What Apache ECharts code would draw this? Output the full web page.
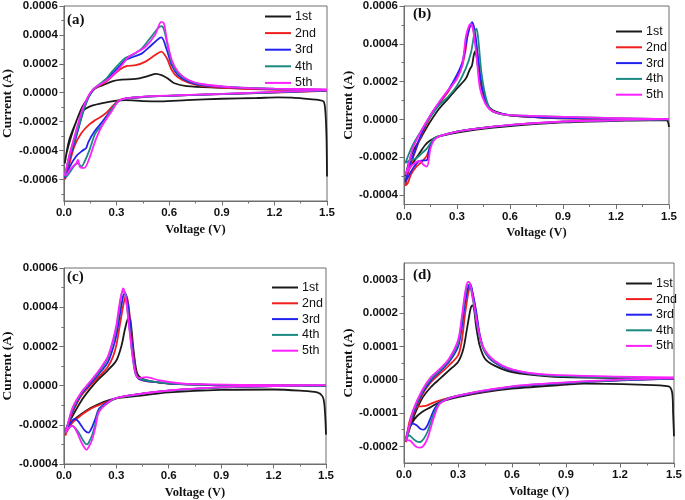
<!DOCTYPE html>
<html><head><meta charset="utf-8">
<script src="https://cdn.jsdelivr.net/npm/echarts@6/dist/echarts.min.js"></script>
<style>html,body{margin:0;padding:0;background:#fff}#c{width:685px;height:500px}</style>
</head><body><div id="c"></div>
<script>
const cycleNames = ['1st', '2nd', '3rd', '4th', '5th'];
const cycleColors = ['#1a1a1a', '#f01e1e', '#2222f0', '#1a8a80', '#ff20ff'];

// ---- Panel (a): [Voltage (V), Current (A)] ----
const a1 = [[1.5,-5.8e-4],[1.497,-3.0e-4],[1.49,-1.2e-4],[1.48,-0.6e-4],[1.45,-0.5e-4],[1.4,-0.45e-4],[1.3,-0.35e-4],[1.22,-0.33e-4],[1.1,-0.37e-4],[0.9,-0.42e-4],[0.7,-0.52e-4],[0.55,-0.6e-4],[0.45,-0.58e-4],[0.35,-0.52e-4],[0.3,-0.55e-4],[0.22,-0.72e-4],[0.16,-0.9e-4],[0.126,-1.1e-4],[0.09,-1.45e-4],[0.07,-2.0e-4],[0.05,-2.7e-4],[0.03,-3.5e-4],[0.015,-4.2e-4],[0.005,-4.9e-4],[0.03,-3.3e-4],[0.07,-2.0e-4],[0.1,-1.1e-4],[0.13,-0.5e-4],[0.15,-0.1e-4],[0.18,0.3e-4],[0.22,0.5e-4],[0.28,0.8e-4],[0.33,0.9e-4],[0.41,0.95e-4],[0.48,1.15e-4],[0.525,1.3e-4],[0.56,1.2e-4],[0.59,1.0e-4],[0.63,0.65e-4],[0.7,0.45e-4],[0.86,0.35e-4],[1.1,0.28e-4],[1.5,0.2e-4]];
const a2 = [[1.5,0.12e-4],[1.2,0.0],[0.9,-0.1e-4],[0.6,-0.22e-4],[0.45,-0.3e-4],[0.35,-0.42e-4],[0.31,-0.55e-4],[0.28,-0.9e-4],[0.25,-1.3e-4],[0.22,-1.6e-4],[0.18,-1.9e-4],[0.145,-2.2e-4],[0.1,-2.8e-4],[0.06,-3.7e-4],[0.03,-5.0e-4],[0.012,-5.8e-4],[0.005,-6.0e-4],[0.03,-4.4e-4],[0.07,-2.8e-4],[0.107,-1.3e-4],[0.135,-0.4e-4],[0.165,0.2e-4],[0.2,0.46e-4],[0.24,0.76e-4],[0.277,1.15e-4],[0.315,1.57e-4],[0.36,1.85e-4],[0.41,1.9e-4],[0.465,2.15e-4],[0.52,2.6e-4],[0.555,2.84e-4],[0.587,2.38e-4],[0.615,1.57e-4],[0.65,1.06e-4],[0.71,0.7e-4],[0.785,0.48e-4],[0.97,0.3e-4],[1.2,0.2e-4],[1.5,0.14e-4]];
const a3 = [[1.5,0.15e-4],[1.2,0.02e-4],[0.9,-0.1e-4],[0.6,-0.22e-4],[0.45,-0.3e-4],[0.35,-0.42e-4],[0.31,-0.6e-4],[0.28,-1.0e-4],[0.25,-1.5e-4],[0.22,-2.0e-4],[0.173,-2.7e-4],[0.14,-3.4e-4],[0.126,-3.85e-4],[0.107,-4.0e-4],[0.07,-4.4e-4],[0.03,-5.2e-4],[0.013,-5.8e-4],[0.005,-5.9e-4],[0.03,-4.65e-4],[0.07,-3.05e-4],[0.107,-1.45e-4],[0.135,-0.46e-4],[0.165,0.18e-4],[0.2,0.53e-4],[0.24,0.88e-4],[0.277,1.33e-4],[0.315,1.8e-4],[0.35,2.26e-4],[0.39,2.45e-4],[0.445,2.72e-4],[0.5,3.3e-4],[0.555,3.83e-4],[0.587,2.95e-4],[0.615,1.9e-4],[0.65,1.22e-4],[0.71,0.76e-4],[0.785,0.53e-4],[0.97,0.35e-4],[1.2,0.25e-4],[1.5,0.18e-4]];
const a4 = [[1.5,0.16e-4],[1.2,0.03e-4],[0.9,-0.09e-4],[0.6,-0.21e-4],[0.45,-0.29e-4],[0.35,-0.41e-4],[0.31,-0.6e-4],[0.28,-1.0e-4],[0.25,-1.6e-4],[0.22,-2.2e-4],[0.18,-2.8e-4],[0.145,-4.0e-4],[0.117,-4.8e-4],[0.1,-5.1e-4],[0.08,-4.9e-4],[0.06,-5.05e-4],[0.04,-5.4e-4],[0.013,-5.8e-4],[0.005,-5.8e-4],[0.03,-4.5e-4],[0.07,-2.9e-4],[0.107,-1.4e-4],[0.135,-0.45e-4],[0.165,0.2e-4],[0.2,0.55e-4],[0.24,0.95e-4],[0.277,1.5e-4],[0.315,2.0e-4],[0.35,2.4e-4],[0.39,2.6e-4],[0.445,3.07e-4],[0.5,3.9e-4],[0.555,4.6e-4],[0.57,4.4e-4],[0.587,3.5e-4],[0.615,2.1e-4],[0.65,1.35e-4],[0.71,0.85e-4],[0.785,0.58e-4],[0.97,0.38e-4],[1.2,0.27e-4],[1.5,0.2e-4]];
const a5 = [[1.5,0.18e-4],[1.2,0.05e-4],[0.9,-0.08e-4],[0.6,-0.2e-4],[0.45,-0.28e-4],[0.35,-0.4e-4],[0.31,-0.6e-4],[0.277,-1.2e-4],[0.22,-2.24e-4],[0.18,-3.3e-4],[0.145,-4.55e-4],[0.117,-5.2e-4],[0.1,-5.2e-4],[0.09,-5.1e-4],[0.08,-4.66e-4],[0.07,-4.9e-4],[0.06,-5.0e-4],[0.03,-5.4e-4],[0.013,-5.7e-4],[0.005,-5.7e-4],[0.03,-4.4e-4],[0.07,-2.6e-4],[0.107,-1.1e-4],[0.145,-0.1e-4],[0.18,0.37e-4],[0.22,0.65e-4],[0.26,1.0e-4],[0.3,1.45e-4],[0.33,1.9e-4],[0.37,2.5e-4],[0.41,2.77e-4],[0.465,3.18e-4],[0.52,4.0e-4],[0.555,4.9e-4],[0.57,4.8e-4],[0.587,3.65e-4],[0.615,2.26e-4],[0.65,1.45e-4],[0.71,0.88e-4],[0.785,0.6e-4],[0.97,0.37e-4],[1.2,0.28e-4],[1.5,0.23e-4]];

// ---- Panel (b) ----
const b1 = [[1.5,-0.4e-4],[1.495,-0.15e-4],[1.485,-0.05e-4],[1.3,-0.06e-4],[1.2,-0.08e-4],[0.9,-0.16e-4],[0.6,-0.35e-4],[0.4,-0.55e-4],[0.3,-0.7e-4],[0.2,-0.9e-4],[0.15,-1.1e-4],[0.12,-1.35e-4],[0.08,-1.9e-4],[0.05,-2.3e-4],[0.02,-2.75e-4],[0.008,-3.0e-4],[0.03,-2.2e-4],[0.05,-1.7e-4],[0.1,-0.9e-4],[0.15,-0.1e-4],[0.2,0.58e-4],[0.25,1.1e-4],[0.3,1.64e-4],[0.35,2.16e-4],[0.37,2.6e-4],[0.385,2.87e-4],[0.395,3.4e-4],[0.403,3.6e-4],[0.42,2.7e-4],[0.44,1.64e-4],[0.47,0.84e-4],[0.5,0.5e-4],[0.55,0.32e-4],[0.6,0.2e-4],[0.8,0.09e-4],[1.0,0.05e-4],[1.5,0.0]];
const b2 = [[1.5,0.0],[1.2,-0.05e-4],[0.9,-0.12e-4],[0.6,-0.3e-4],[0.4,-0.5e-4],[0.3,-0.65e-4],[0.2,-0.88e-4],[0.17,-1.0e-4],[0.15,-1.35e-4],[0.13,-1.9e-4],[0.1,-2.25e-4],[0.07,-2.5e-4],[0.04,-2.9e-4],[0.02,-3.4e-4],[0.008,-3.5e-4],[0.02,-2.95e-4],[0.05,-2.05e-4],[0.1,-0.8e-4],[0.15,0.14e-4],[0.2,0.84e-4],[0.25,1.46e-4],[0.3,2.25e-4],[0.33,2.87e-4],[0.35,3.75e-4],[0.36,4.45e-4],[0.38,5.0e-4],[0.4,4.45e-4],[0.42,3.05e-4],[0.44,1.73e-4],[0.47,0.76e-4],[0.5,0.44e-4],[0.55,0.28e-4],[0.7,0.14e-4],[1.0,0.05e-4],[1.5,0.02e-4]];
const b3 = [[1.5,0.0],[1.2,-0.05e-4],[0.9,-0.12e-4],[0.6,-0.3e-4],[0.4,-0.5e-4],[0.3,-0.65e-4],[0.2,-0.88e-4],[0.17,-1.0e-4],[0.15,-1.4e-4],[0.14,-1.7e-4],[0.13,-2.15e-4],[0.1,-2.18e-4],[0.08,-2.24e-4],[0.05,-2.6e-4],[0.02,-3.1e-4],[0.008,-3.3e-4],[0.02,-2.75e-4],[0.05,-1.97e-4],[0.1,-0.74e-4],[0.15,0.23e-4],[0.2,0.9e-4],[0.25,1.55e-4],[0.3,2.37e-4],[0.33,3.03e-4],[0.36,4.45e-4],[0.385,5.15e-4],[0.4,4.72e-4],[0.42,3.22e-4],[0.44,1.81e-4],[0.47,0.79e-4],[0.5,0.44e-4],[0.6,0.23e-4],[0.8,0.1e-4],[1.5,0.02e-4]];
const b4 = [[1.5,0.0],[1.2,-0.05e-4],[0.9,-0.12e-4],[0.6,-0.3e-4],[0.4,-0.5e-4],[0.3,-0.65e-4],[0.2,-0.88e-4],[0.17,-1.0e-4],[0.13,-1.53e-4],[0.1,-1.8e-4],[0.07,-2.05e-4],[0.04,-2.15e-4],[0.008,-2.3e-4],[0.05,-1.35e-4],[0.1,-0.56e-4],[0.15,0.14e-4],[0.2,0.76e-4],[0.25,1.2e-4],[0.3,1.78e-4],[0.35,2.7e-4],[0.38,3.57e-4],[0.4,4.63e-4],[0.41,4.8e-4],[0.42,4.28e-4],[0.44,2.34e-4],[0.47,0.93e-4],[0.5,0.44e-4],[0.6,0.23e-4],[1.5,0.02e-4]];
const b5 = [[1.5,0.02e-4],[1.2,-0.04e-4],[0.9,-0.11e-4],[0.6,-0.29e-4],[0.4,-0.5e-4],[0.3,-0.65e-4],[0.2,-0.9e-4],[0.17,-1.1e-4],[0.15,-1.53e-4],[0.13,-2.5e-4],[0.11,-2.4e-4],[0.09,-2.2e-4],[0.06,-2.3e-4],[0.03,-2.6e-4],[0.008,-2.95e-4],[0.02,-2.6e-4],[0.05,-1.53e-4],[0.1,-0.56e-4],[0.15,0.23e-4],[0.2,0.93e-4],[0.25,1.55e-4],[0.3,2.15e-4],[0.33,2.87e-4],[0.35,4.36e-4],[0.37,5.0e-4],[0.38,5.04e-4],[0.39,4.8e-4],[0.41,3.4e-4],[0.43,1.64e-4],[0.46,0.84e-4],[0.5,0.44e-4],[0.6,0.23e-4],[1.5,0.02e-4]];

// ---- Panel (c) ----
const c1 = [[1.5,-2.5e-4],[1.497,-1.8e-4],[1.49,-0.9e-4],[1.48,-0.55e-4],[1.45,-0.35e-4],[1.35,-0.26e-4],[1.2,-0.2e-4],[0.9,-0.22e-4],[0.6,-0.35e-4],[0.4,-0.55e-4],[0.3,-0.65e-4],[0.25,-0.77e-4],[0.2,-0.94e-4],[0.15,-1.16e-4],[0.1,-1.45e-4],[0.05,-1.8e-4],[0.02,-2.1e-4],[0.008,-2.35e-4],[0.02,-2.05e-4],[0.05,-1.54e-4],[0.1,-0.77e-4],[0.15,-0.17e-4],[0.2,0.34e-4],[0.25,0.77e-4],[0.3,1.28e-4],[0.33,2.05e-4],[0.35,2.9e-4],[0.37,3.45e-4],[0.38,3.4e-4],[0.4,1.7e-4],[0.42,0.6e-4],[0.45,0.35e-4],[0.5,0.22e-4],[0.6,0.1e-4],[0.8,0.05e-4],[1.5,0.0]];
const c2 = [[1.5,0.0],[1.2,-0.03e-4],[0.9,-0.09e-4],[0.6,-0.26e-4],[0.4,-0.48e-4],[0.3,-0.65e-4],[0.2,-1.0e-4],[0.15,-1.2e-4],[0.1,-1.5e-4],[0.05,-1.88e-4],[0.02,-2.3e-4],[0.008,-2.55e-4],[0.02,-2.14e-4],[0.05,-1.37e-4],[0.1,-0.5e-4],[0.15,0.0],[0.2,0.46e-4],[0.25,0.94e-4],[0.28,1.45e-4],[0.3,2.05e-4],[0.32,3.08e-4],[0.34,4.1e-4],[0.355,4.6e-4],[0.37,4.1e-4],[0.39,2.22e-4],[0.41,0.77e-4],[0.43,0.34e-4],[0.5,0.2e-4],[0.7,0.06e-4],[1.5,0.0]];
const c3 = [[1.5,0.0],[1.2,-0.03e-4],[0.9,-0.09e-4],[0.6,-0.26e-4],[0.4,-0.48e-4],[0.3,-0.64e-4],[0.25,-0.85e-4],[0.2,-1.2e-4],[0.18,-1.7e-4],[0.16,-2.14e-4],[0.14,-2.4e-4],[0.12,-2.3e-4],[0.1,-2.05e-4],[0.08,-1.8e-4],[0.06,-1.7e-4],[0.04,-1.88e-4],[0.02,-2.14e-4],[0.008,-2.35e-4],[0.02,-2.05e-4],[0.05,-1.28e-4],[0.1,-0.43e-4],[0.15,0.09e-4],[0.2,0.6e-4],[0.25,1.16e-4],[0.28,1.88e-4],[0.3,2.56e-4],[0.32,3.6e-4],[0.34,4.6e-4],[0.35,4.73e-4],[0.37,3.93e-4],[0.39,2.05e-4],[0.41,0.68e-4],[0.43,0.34e-4],[0.5,0.2e-4],[0.7,0.06e-4],[1.5,0.0]];
const c4 = [[1.5,0.0],[1.2,-0.03e-4],[0.9,-0.09e-4],[0.6,-0.26e-4],[0.4,-0.48e-4],[0.3,-0.64e-4],[0.25,-0.9e-4],[0.2,-1.28e-4],[0.18,-1.97e-4],[0.16,-2.56e-4],[0.14,-2.94e-4],[0.13,-3.0e-4],[0.11,-2.8e-4],[0.09,-2.48e-4],[0.07,-2.22e-4],[0.05,-2.05e-4],[0.03,-2.14e-4],[0.008,-2.4e-4],[0.02,-2.05e-4],[0.05,-1.2e-4],[0.1,-0.38e-4],[0.15,0.17e-4],[0.2,0.68e-4],[0.25,1.37e-4],[0.28,2.22e-4],[0.3,2.9e-4],[0.32,4.1e-4],[0.335,4.79e-4],[0.345,4.79e-4],[0.36,4.1e-4],[0.38,2.56e-4],[0.4,1.03e-4],[0.42,0.43e-4],[0.5,0.22e-4],[0.7,0.06e-4],[1.5,0.0]];
const c5 = [[1.5,0.02e-4],[1.2,-0.02e-4],[0.9,-0.08e-4],[0.6,-0.25e-4],[0.4,-0.47e-4],[0.3,-0.63e-4],[0.25,-0.88e-4],[0.2,-1.37e-4],[0.18,-2.14e-4],[0.16,-2.8e-4],[0.14,-3.16e-4],[0.13,-3.28e-4],[0.12,-3.2e-4],[0.1,-2.9e-4],[0.08,-2.48e-4],[0.06,-2.14e-4],[0.045,-2.05e-4],[0.03,-2.14e-4],[0.008,-2.4e-4],[0.02,-2.05e-4],[0.05,-1.11e-4],[0.1,-0.34e-4],[0.15,0.2e-4],[0.2,0.77e-4],[0.25,1.45e-4],[0.28,2.3e-4],[0.3,3.08e-4],[0.32,4.27e-4],[0.335,4.87e-4],[0.34,4.96e-4],[0.355,4.45e-4],[0.37,3.25e-4],[0.39,1.71e-4],[0.41,0.6e-4],[0.43,0.38e-4],[0.47,0.43e-4],[0.55,0.26e-4],[0.7,0.09e-4],[1.5,0.02e-4]];

// ---- Panel (d) ----
const d1 = [[1.5,-1.7e-4],[1.495,-1.0e-4],[1.49,-0.4e-4],[1.47,-0.2e-4],[1.3,-0.15e-4],[1.0,-0.12e-4],[0.9,-0.15e-4],[0.6,-0.27e-4],[0.45,-0.37e-4],[0.3,-0.52e-4],[0.2,-0.67e-4],[0.15,-0.82e-4],[0.1,-0.97e-4],[0.06,-1.17e-4],[0.03,-1.47e-4],[0.01,-1.87e-4],[0.02,-1.67e-4],[0.05,-1.17e-4],[0.1,-0.57e-4],[0.15,-0.22e-4],[0.2,0.03e-4],[0.25,0.28e-4],[0.3,0.53e-4],[0.33,0.93e-4],[0.35,1.53e-4],[0.37,2.13e-4],[0.38,2.23e-4],[0.39,2.08e-4],[0.4,1.63e-4],[0.42,1.03e-4],[0.45,0.63e-4],[0.5,0.43e-4],[0.6,0.23e-4],[0.8,0.1e-4],[1.0,0.06e-4],[1.5,0.03e-4]];
const d2 = [[1.5,0.03e-4],[1.2,-0.02e-4],[0.9,-0.1e-4],[0.6,-0.22e-4],[0.3,-0.49e-4],[0.2,-0.62e-4],[0.15,-0.72e-4],[0.13,-0.77e-4],[0.1,-0.8e-4],[0.07,-0.82e-4],[0.05,-0.97e-4],[0.03,-1.27e-4],[0.01,-1.87e-4],[0.03,-1.47e-4],[0.05,-1.07e-4],[0.1,-0.47e-4],[0.15,-0.07e-4],[0.2,0.18e-4],[0.25,0.43e-4],[0.3,0.73e-4],[0.32,1.13e-4],[0.34,2.0e-4],[0.36,2.68e-4],[0.37,2.78e-4],[0.38,2.63e-4],[0.4,2.03e-4],[0.42,1.33e-4],[0.45,0.83e-4],[0.5,0.53e-4],[0.6,0.28e-4],[0.8,0.13e-4],[1.5,0.05e-4]];
const d3 = [[1.5,0.03e-4],[1.2,-0.02e-4],[0.9,-0.1e-4],[0.6,-0.22e-4],[0.3,-0.49e-4],[0.2,-0.67e-4],[0.17,-0.87e-4],[0.15,-1.12e-4],[0.13,-1.37e-4],[0.11,-1.5e-4],[0.09,-1.47e-4],[0.07,-1.37e-4],[0.05,-1.32e-4],[0.03,-1.42e-4],[0.01,-1.77e-4],[0.03,-1.42e-4],[0.05,-1.02e-4],[0.1,-0.42e-4],[0.15,-0.02e-4],[0.2,0.25e-4],[0.25,0.53e-4],[0.3,0.98e-4],[0.32,1.53e-4],[0.34,2.33e-4],[0.36,2.83e-4],[0.37,2.85e-4],[0.38,2.63e-4],[0.4,2.08e-4],[0.42,1.38e-4],[0.45,0.83e-4],[0.5,0.53e-4],[0.6,0.28e-4],[0.8,0.13e-4],[1.5,0.05e-4]];
const d4 = [[1.5,0.04e-4],[1.2,-0.01e-4],[0.9,-0.09e-4],[0.6,-0.21e-4],[0.3,-0.48e-4],[0.2,-0.69e-4],[0.17,-0.97e-4],[0.15,-1.27e-4],[0.13,-1.57e-4],[0.11,-1.77e-4],[0.09,-1.87e-4],[0.07,-1.85e-4],[0.05,-1.77e-4],[0.03,-1.67e-4],[0.01,-1.82e-4],[0.03,-1.42e-4],[0.05,-0.97e-4],[0.1,-0.37e-4],[0.15,0.03e-4],[0.2,0.28e-4],[0.25,0.58e-4],[0.3,1.08e-4],[0.32,1.73e-4],[0.34,2.53e-4],[0.355,2.85e-4],[0.365,2.85e-4],[0.375,2.63e-4],[0.39,2.18e-4],[0.41,1.53e-4],[0.44,0.93e-4],[0.5,0.55e-4],[0.6,0.3e-4],[0.8,0.13e-4],[1.5,0.05e-4]];
const d5 = [[1.5,0.05e-4],[1.2,0.0],[0.9,-0.08e-4],[0.6,-0.2e-4],[0.3,-0.48e-4],[0.2,-0.72e-4],[0.17,-1.07e-4],[0.15,-1.42e-4],[0.13,-1.77e-4],[0.11,-1.97e-4],[0.09,-2.04e-4],[0.07,-2.02e-4],[0.05,-1.92e-4],[0.03,-1.82e-4],[0.01,-1.82e-4],[0.03,-1.37e-4],[0.05,-0.92e-4],[0.1,-0.32e-4],[0.15,0.08e-4],[0.2,0.33e-4],[0.25,0.63e-4],[0.3,1.18e-4],[0.32,1.83e-4],[0.34,2.63e-4],[0.355,2.93e-4],[0.365,2.91e-4],[0.375,2.68e-4],[0.39,2.23e-4],[0.41,1.58e-4],[0.44,0.98e-4],[0.5,0.58e-4],[0.6,0.31e-4],[0.8,0.15e-4],[1.5,0.07e-4]];

// ---- Tick values ----
const yMajorA = [-0.0006, -0.0004, -0.0002, 0, 0.0002, 0.0004, 0.0006];
const yMinorA = [-0.0007, -0.0005, -0.0003, -0.0001, 0.0001, 0.0003, 0.0005];
const yMajorB = [-0.0004, -0.0002, 0, 0.0002, 0.0004, 0.0006];
const yMinorB = [-0.0003, -0.0001, 0.0001, 0.0003, 0.0005];
const yMajorC = [-0.0004, -0.0002, 0, 0.0002, 0.0004, 0.0006];
const yMinorC = [-0.0003, -0.0001, 0.0001, 0.0003, 0.0005];
const yMajorD = [-0.0002, -0.0001, 0, 0.0001, 0.0002, 0.0003];
const yMinorD = [-0.00015, -0.00005, 0.00005, 0.00015, 0.00025];

const panels = [
  { tag: '(a)', data: [a1, a2, a3, a4, a5], ymin: -0.00075, ymax: 0.0006, major: yMajorA, minor: yMinorA,
    grid: { left: 61, top: 5, width: 266, height: 196 }, legend: { left: 265, top: 10, gap: 3.6 }, label: { left: 67, top: 13 } },
  { tag: '(b)', data: [b1, b2, b3, b4, b5], ymin: -0.00045, ymax: 0.0006, major: yMajorB, minor: yMinorB,
    grid: { left: 404, top: 6, width: 265, height: 198.5 }, legend: { left: 616, top: 25, gap: 2.8 }, label: { left: 413, top: 7 } },
  { tag: '(c)', data: [c1, c2, c3, c4, c5], ymin: -0.0004, ymax: 0.0006, major: yMajorC, minor: yMinorC,
    grid: { left: 61, top: 268, width: 265, height: 196 }, legend: { left: 272, top: 281, gap: 2.8 }, label: { left: 67, top: 270 } },
  { tag: '(d)', data: [d1, d2, d3, d4, d5], ymin: -0.00025, ymax: 0.00035, major: yMajorD, minor: yMinorD,
    grid: { left: 404, top: 263, width: 273, height: 200 }, legend: { left: 626, top: 277, gap: 2.6 }, label: { left: 413, top: 268 } }
];

const SANS = 'Liberation Sans, Arial, sans-serif';
const SERIF = 'Liberation Serif, Times New Roman, serif';
const AXIS_COLOR = '#6e6e6e';

const option = { animation: false, backgroundColor: '#fff', grid: [], xAxis: [], yAxis: [], series: [], legend: [], title: [] };

panels.forEach((p, i) => {
  option.grid.push(Object.assign({ show: true, borderColor: AXIS_COLOR, borderWidth: 1, backgroundColor: 'transparent', containLabel: false }, p.grid));
  option.xAxis.push({
    type: 'value', gridIndex: i, min: 0, max: 1.5, interval: 0.3,
    name: 'Voltage (V)', nameLocation: 'middle', nameGap: 22,
    nameTextStyle: { fontFamily: SERIF, fontWeight: 'bold', fontSize: 12.5, color: '#111' },
    axisLine: { show: true, onZero: false, lineStyle: { color: AXIS_COLOR, width: 1 } },
    axisTick: { show: true, inside: false, length: 4.5, lineStyle: { color: AXIS_COLOR } },
    minorTick: { show: true, splitNumber: 2, length: 2.5, lineStyle: { color: AXIS_COLOR } },
    splitLine: { show: false }, minorSplitLine: { show: false },
    axisLabel: { margin: 6, fontFamily: SANS, fontWeight: 'bold', fontSize: 11.5, color: '#111',
      formatter: v => v.toFixed(1) }
  });
  option.yAxis.push({
    type: 'value', gridIndex: i, min: p.ymin, max: p.ymax, position: 'left',
    name: 'Current (A)', nameLocation: 'middle', nameGap: 48,
    nameTextStyle: { fontFamily: SERIF, fontWeight: 'bold', fontSize: 13.5, color: '#111' },
    axisLine: { show: true, onZero: false, lineStyle: { color: AXIS_COLOR, width: 1 } },
    axisTick: { show: true, inside: false, length: 4.5, customValues: p.major, lineStyle: { color: AXIS_COLOR } },
    splitLine: { show: false },
    axisLabel: { margin: 6, fontFamily: SANS, fontWeight: 'bold', fontSize: 11.5, color: '#111', customValues: p.major,
      formatter: v => (Math.abs(v) < 1e-12 ? 0 : v).toFixed(4) }
  });
  option.yAxis.push({
    type: 'value', gridIndex: i, min: p.ymin, max: p.ymax, position: 'left',
    axisLine: { show: false },
    axisTick: { show: true, inside: false, length: 2.5, customValues: p.minor, lineStyle: { color: AXIS_COLOR } },
    axisLabel: { show: false }, splitLine: { show: false }
  });
  p.data.forEach((d, k) => {
    option.series.push({
      type: 'line', name: cycleNames[k], xAxisIndex: i, yAxisIndex: 2 * i,
      data: d, symbol: 'none', smooth: 0.3, z: 2 + k,
      lineStyle: { color: cycleColors[k], width: 1.8 }, itemStyle: { color: cycleColors[k] }
    });
  });
  option.legend.push({
    left: p.legend.left, top: p.legend.top, orient: 'vertical',
    data: cycleNames.map(n => ({ name: n, icon: 'path://M0 0H26V2H0Z' })),
    itemWidth: 26, itemHeight: 12, itemGap: p.legend.gap, padding: 0, selectedMode: false,
    symbolKeepAspect: true,
    textStyle: { fontFamily: SANS, fontSize: 12.5, color: '#111', padding: [0, 0, 0, -1] }
  });
  option.title.push({
    text: p.tag, left: p.label.left, top: p.label.top, padding: 0,
    textStyle: { fontFamily: SERIF, fontWeight: 'bold', fontSize: 15, color: '#111' }
  });
});

const chart = echarts.init(document.getElementById('c'), null, { renderer: 'canvas' });
chart.setOption(option);
</script>
</body></html>
